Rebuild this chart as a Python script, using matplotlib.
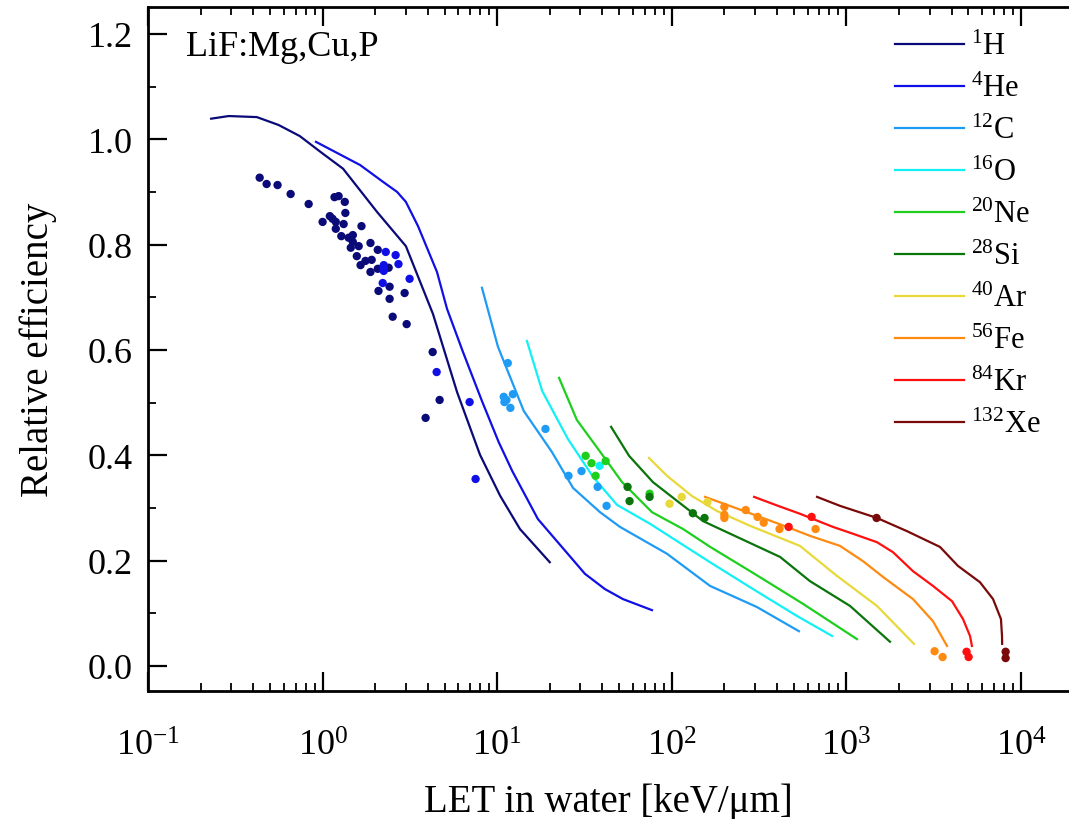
import numpy as np
import matplotlib
matplotlib.use("Agg")
import matplotlib.pyplot as plt
from matplotlib.ticker import LogLocator, MultipleLocator, LogFormatterMathtext, NullFormatter, FormatStrFormatter

plt.rcParams['font.family'] = ['Liberation Serif', 'DejaVu Serif']
plt.rcParams['mathtext.fontset'] = 'custom'
plt.rcParams['mathtext.rm'] = 'Liberation Serif'
plt.rcParams['mathtext.it'] = 'Liberation Serif:italic'
plt.rcParams['mathtext.default'] = 'regular'

# ion names and colours
ions = ['$^{1}$H', '$^{4}$He', '$^{12}$C', '$^{16}$O', '$^{20}$Ne',
        '$^{28}$Si', '$^{40}$Ar', '$^{56}$Fe', '$^{84}$Kr', '$^{132}$Xe']
colors = ['#0a0a78', '#1010e6', '#1e9bf5', '#12f0f5', '#1ecf1e',
          '#0a750a', '#e8d83a', '#ff8a10', '#ff1010', '#7a0a0a']

# calculated curves (LET in water [keV/um], relative efficiency)
h_let = [0.23, 0.29, 0.42, 0.56, 0.74, 0.99, 1.31, 2.05, 3.0, 4.29, 5.89, 7.97, 10.4, 13.5, 20.0]
h_eff = [1.039, 1.044, 1.042, 1.027, 1.006, 0.974, 0.944, 0.862, 0.797, 0.668, 0.520, 0.401, 0.323, 0.260, 0.197]
he_let = [0.916, 1.64, 2.22, 2.67, 3.0, 3.52, 4.52, 5.16, 6.37, 8.18, 10.2, 12.2, 17.1, 31.8, 41.4, 52.5, 77.0]
he_eff = [0.995, 0.951, 0.919, 0.900, 0.881, 0.835, 0.748, 0.678, 0.596, 0.503, 0.425, 0.370, 0.279, 0.175, 0.146, 0.127, 0.106]
c_let = [8.18, 10.1, 14.2, 20.6, 27.2, 38.8, 50.5, 93.9, 165.6, 307, 535]
c_eff = [0.718, 0.606, 0.484, 0.406, 0.338, 0.292, 0.264, 0.213, 0.152, 0.112, 0.066]
o_let = [14.8, 18.1, 25.4, 35.4, 48.5, 75.0, 165.6, 292, 521, 828]
o_eff = [0.617, 0.522, 0.431, 0.359, 0.306, 0.270, 0.197, 0.146, 0.095, 0.057]
ne_let = [22.6, 28.6, 40.4, 51.9, 77.0, 116, 166, 281, 333, 564, 1150]
ne_eff = [0.547, 0.467, 0.399, 0.349, 0.292, 0.260, 0.226, 0.180, 0.165, 0.118, 0.051]
si_let = [44.9, 56.9, 78.0, 151, 417, 619, 1049, 1777]
si_eff = [0.454, 0.399, 0.349, 0.275, 0.207, 0.161, 0.114, 0.046]
ar_let = [74.0, 93.9, 130, 182, 281, 542, 883, 1497, 2438]
ar_eff = [0.395, 0.361, 0.323, 0.294, 0.266, 0.228, 0.171, 0.114, 0.042]
fe_let = [155, 270, 457, 619, 919, 1245, 1622, 2406, 3133, 3770]
fe_eff = [0.321, 0.292, 0.264, 0.247, 0.228, 0.199, 0.169, 0.127, 0.085, 0.038]
kr_let = [296, 406, 542, 838, 1091, 1497, 1849, 2406, 3133, 4027, 4656, 5105, 5236]
kr_eff = [0.321, 0.304, 0.289, 0.264, 0.251, 0.235, 0.216, 0.180, 0.152, 0.123, 0.089, 0.057, 0.038]
xe_let = [679, 919, 1497, 2222, 3436, 4355, 5822, 6918, 7679, 7786, 7800]
xe_eff = [0.321, 0.304, 0.281, 0.256, 0.226, 0.190, 0.159, 0.127, 0.089, 0.057, 0.042]

# measured points
h_pts_let = [0.436, 0.478, 0.552, 0.656, 0.832, 1.17, 1.235, 1.34, 1.35, 1.0, 1.10, 1.14, 1.19, 1.32,
             1.19, 1.28, 1.67, 1.49, 1.41, 1.49, 1.61, 1.45, 1.88, 2.07, 1.57, 1.76, 1.91, 1.65,
             1.88, 2.07, 2.39, 2.09, 2.42, 2.42, 2.95, 2.52, 3.03, 4.27, 4.68, 3.89]
h_pts_eff = [0.927, 0.915, 0.913, 0.896, 0.877, 0.890, 0.892, 0.881, 0.860, 0.843, 0.854, 0.849, 0.843, 0.839,
             0.830, 0.816, 0.835, 0.818, 0.813, 0.805, 0.797, 0.794, 0.803, 0.790, 0.778, 0.769, 0.771, 0.761,
             0.748, 0.754, 0.756, 0.712, 0.720, 0.697, 0.708, 0.663, 0.649, 0.596, 0.505, 0.471]
he_pts_let = [2.30, 2.62, 2.72, 2.24, 2.24, 2.24, 3.15, 2.21, 4.50, 6.95, 7.52]
he_pts_eff = [0.786, 0.780, 0.763, 0.761, 0.756, 0.750, 0.735, 0.727, 0.558, 0.501, 0.355]
c_pts_let = [11.5, 10.9, 11.3, 11.0, 12.3, 11.9, 18.9, 25.6, 30.4, 37.6, 42.3]
c_pts_eff = [0.575, 0.511, 0.505, 0.501, 0.516, 0.490, 0.450, 0.361, 0.370, 0.340, 0.304]
o_pts_let = [38.6]
o_pts_eff = [0.380]
ne_pts_let = [32.1, 34.7, 41.8, 36.6, 74.6]
ne_pts_eff = [0.399, 0.385, 0.389, 0.361, 0.327]
si_pts_let = [55.8, 57.3, 74.6, 132, 154]
si_pts_eff = [0.340, 0.313, 0.321, 0.290, 0.281]
ar_pts_let = [97.1, 114, 160]
ar_pts_eff = [0.308, 0.321, 0.311]
fe_pts_let = [200, 200, 200, 265, 310, 336, 414, 666, 3200, 3556]
fe_pts_eff = [0.302, 0.287, 0.281, 0.296, 0.283, 0.272, 0.260, 0.260, 0.028, 0.017]
kr_pts_let = [467, 632, 4878, 5012]
kr_pts_eff = [0.264, 0.283, 0.027, 0.017]
xe_pts_let = [1489, 8166, 8166]
xe_pts_eff = [0.281, 0.027, 0.015]

curves = [(h_let, h_eff), (he_let, he_eff), (c_let, c_eff), (o_let, o_eff), (ne_let, ne_eff),
          (si_let, si_eff), (ar_let, ar_eff), (fe_let, fe_eff), (kr_let, kr_eff), (xe_let, xe_eff)]
points = [(h_pts_let, h_pts_eff), (he_pts_let, he_pts_eff), (c_pts_let, c_pts_eff), (o_pts_let, o_pts_eff),
          (ne_pts_let, ne_pts_eff), (si_pts_let, si_pts_eff), (ar_pts_let, ar_pts_eff),
          (fe_pts_let, fe_pts_eff), (kr_pts_let, kr_pts_eff), (xe_pts_let, xe_pts_eff)]

fig = plt.figure(figsize=(10.69, 8.2), dpi=100)
ax = fig.add_axes([148/1069, 128/820, 921/1069, 684/820])

for (lx, ly), (px, py), c, lab in zip(curves, points, colors, ions):
    ax.plot(lx, ly, color=c, lw=1.6, label=lab, zorder=2)
    ax.scatter(px, py, s=36, color=c, edgecolors='none', zorder=3)

ax.set_xscale('log')
ax.set_xlim(0.1, 10**4.275)
ax.set_ylim(-0.0475, 1.251)

ax.xaxis.set_major_locator(LogLocator(base=10, numticks=10))
ax.xaxis.set_minor_locator(LogLocator(base=10, subs=np.arange(2, 10), numticks=20))
ax.xaxis.set_major_formatter(LogFormatterMathtext())
ax.xaxis.set_minor_formatter(NullFormatter())
ax.yaxis.set_major_locator(MultipleLocator(0.2))
ax.yaxis.set_minor_locator(MultipleLocator(0.1))
ax.yaxis.set_major_formatter(FormatStrFormatter('%.1f'))

ax.tick_params(which='major', direction='in', length=14, width=1.6, labelsize=26, pad=11)
ax.tick_params(which='minor', direction='in', length=6, width=1.3)
ax.tick_params(axis='x', which='major', pad=28)
ax.tick_params(axis='x', which='both', top=True)
for s in ['left', 'bottom', 'top']:
    ax.spines[s].set_linewidth(2.0)
ax.spines['right'].set_visible(False)

ax.set_xlabel('LET in water [keV/\u03bcm]', fontsize=28, labelpad=14)
ax.set_ylabel('Relative efficiency', fontsize=28, labelpad=22)

ax.text(0.041, 0.967, 'LiF:Mg,Cu,P', transform=ax.transAxes, fontsize=26, va='top', ha='left')

ax.legend(loc='upper left', bbox_to_anchor=(895/1069, 1 - 33/820), bbox_transform=fig.transFigure,
          frameon=False, fontsize=22, borderpad=0, borderaxespad=0,
          handlelength=2.25, handletextpad=0.25, labelspacing=0.42)

fig.savefig('out.png', dpi=100)
